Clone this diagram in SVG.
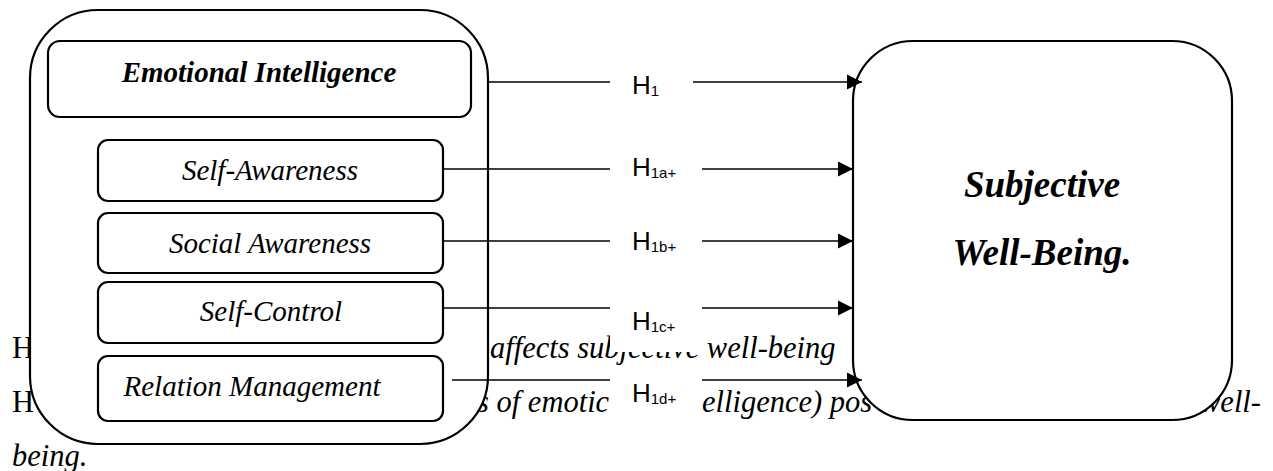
<svg xmlns="http://www.w3.org/2000/svg" width="1273" height="471" viewBox="0 0 1273 471">
<defs>
<style>
.para{font-family:"Liberation Serif","Times New Roman",serif;font-size:30.5px;fill:#000}
.it{font-style:italic}
.box{fill:#fff;stroke:#000;stroke-width:2.2}
.nt{font-family:"Liberation Serif","Times New Roman",serif;font-size:29px;font-style:italic;fill:#000;text-anchor:middle}
.bold{font-weight:bold}
.big{font-size:37px}
.ln{stroke:#000;stroke-width:1.4;fill:none}
.lbl{font-family:"Liberation Sans",Arial,sans-serif;font-size:26px;fill:#000}
.sub{font-size:15px}
.lblbg{fill:#fff;stroke:none}
</style>
<marker id="arr" markerUnits="userSpaceOnUse" markerWidth="16" markerHeight="16" viewBox="0 0 16 16" refX="15" refY="8" orient="auto">
<path d="M0,0.5 L15,8 L0,15.5 Z" fill="#000"/>
</marker>
</defs>
<rect width="1273" height="471" fill="#fff"/>
<g id="paragraph">
<text class="para" x="12" y="358">H</text>
<text class="para it" x="490" y="358">affects subjective well-being</text>
<text class="para" x="12" y="412">H</text>
<text class="para it" x="477" y="412">s of emotic</text>
<text class="para it" x="702" y="412">elligence) pos</text>
<text class="para it" x="1200" y="412">well-</text>
<text class="para it" x="12" y="466">being.</text>
</g>
<g id="emotional-intelligence-group">
<rect class="box" x="30" y="10" width="458" height="434" rx="68" ry="68"/>
</g>
<g id="emotional-intelligence">
<rect class="box" x="48" y="41" width="423" height="76" rx="12" ry="12"/>
<text class="nt bold" x="259" y="82">Emotional Intelligence</text>
</g>
<g id="self-awareness">
<rect class="box" x="98" y="140" width="345" height="61" rx="10" ry="10"/>
<text class="nt" x="270" y="180">Self-Awareness</text>
</g>
<g id="social-awareness">
<rect class="box" x="98" y="213" width="345" height="60" rx="10" ry="10"/>
<text class="nt" x="270" y="253">Social Awareness</text>
</g>
<g id="self-control">
<rect class="box" x="98" y="282" width="345" height="61" rx="10" ry="10"/>
<text class="nt" x="271" y="321">Self-Control</text>
</g>
<g id="relation-management">
<rect class="box" x="98" y="356" width="345" height="65" rx="10" ry="10"/>
<text class="nt" x="252" y="396">Relation Management</text>
</g>
<g id="subjective-well-being">
<rect class="box" x="853" y="41" width="379" height="379" rx="60" ry="60"/>
<text class="nt bold big" x="1042" y="197">Subjective</text>
<text class="nt bold big" x="1042" y="265">Well-Being.</text>
</g>
<g id="connectors">
<line class="ln" x1="488" y1="82" x2="862" y2="82" marker-end="url(#arr)"/>
<line class="ln" x1="443" y1="169" x2="853" y2="169" marker-end="url(#arr)"/>
<line class="ln" x1="443" y1="241" x2="853" y2="241" marker-end="url(#arr)"/>
<line class="ln" x1="443" y1="308" x2="853" y2="308" marker-end="url(#arr)"/>
<line class="ln" x1="452" y1="380" x2="862" y2="380" marker-end="url(#arr)"/>
<rect class="lblbg" x="610" y="70" width="83" height="32"/>
<rect class="lblbg" x="610" y="155" width="92" height="30"/>
<rect class="lblbg" x="610" y="228" width="92" height="30"/>
<rect class="lblbg" x="610" y="298" width="92" height="54"/>
<rect class="lblbg" x="610" y="371" width="92" height="56"/>
<text class="lbl" x="632" y="94">H<tspan class="sub" dy="2">1</tspan></text>
<text class="lbl" x="632" y="176">H<tspan class="sub" dy="2">1a+</tspan></text>
<text class="lbl" x="632" y="250">H<tspan class="sub" dy="2">1b+</tspan></text>
<text class="lbl" x="632" y="330">H<tspan class="sub" dy="2">1c+</tspan></text>
<text class="lbl" x="632" y="402">H<tspan class="sub" dy="2">1d+</tspan></text>
</g>
</svg>
